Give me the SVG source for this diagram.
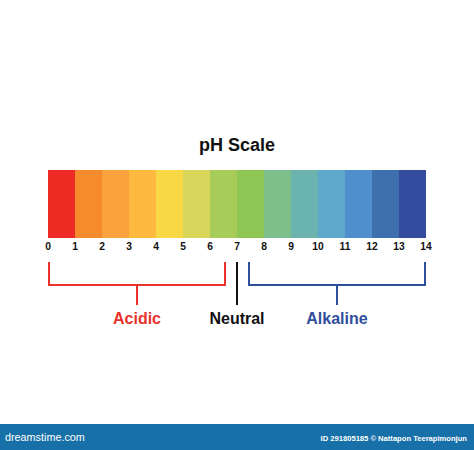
<svg xmlns="http://www.w3.org/2000/svg" width="474" height="450" viewBox="0 0 474 450">
<style>
.t{font-family:"Liberation Sans",Arial,sans-serif;font-weight:bold;text-anchor:middle}
.n{font-size:10.3px;fill:#111}
.lbl{font-size:16px}
.br{fill:none;stroke-width:2}
</style>
<rect width="474" height="450" fill="#fff"/>
<g id="title"><text class="t" x="237" y="151" font-size="18" fill="#111">pH Scale</text></g>
<g id="scale-bar">
<rect x="48" y="170" width="27.5" height="68" fill="#EE2A24"/>
<rect x="75" y="170" width="27.5" height="68" fill="#F68B2C"/>
<rect x="102" y="170" width="27.5" height="68" fill="#F9A13A"/>
<rect x="129" y="170" width="27.5" height="68" fill="#FDB940"/>
<rect x="156" y="170" width="27.5" height="68" fill="#F8D945"/>
<rect x="183" y="170" width="27.5" height="68" fill="#D9D75B"/>
<rect x="210" y="170" width="27.5" height="68" fill="#A8CC5A"/>
<rect x="237" y="170" width="27.5" height="68" fill="#8DC653"/>
<rect x="264" y="170" width="27.5" height="68" fill="#7DBE8B"/>
<rect x="291" y="170" width="27.5" height="68" fill="#6BB3AE"/>
<rect x="318" y="170" width="27.5" height="68" fill="#5EA8CB"/>
<rect x="345" y="170" width="27.5" height="68" fill="#4F8FCD"/>
<rect x="372" y="170" width="27.5" height="68" fill="#3F70AE"/>
<rect x="399" y="170" width="27" height="68" fill="#334C9D"/>
</g>
<g id="numbers" class="t n">
<text x="48" y="250">0</text><text x="75" y="250">1</text><text x="102" y="250">2</text><text x="129" y="250">3</text><text x="156" y="250">4</text><text x="183" y="250">5</text><text x="210" y="250">6</text><text x="237" y="250">7</text><text x="264" y="250">8</text><text x="291" y="250">9</text><text x="318" y="250">10</text><text x="345" y="250">11</text><text x="372" y="250">12</text><text x="399" y="250">13</text><text x="426" y="250">14</text>
</g>
<g id="connectors">
<path class="br" stroke="#E8322A" d="M49 262V285H225V262M137 285V305"/>
<path class="br" stroke="#111" d="M237 262V305"/>
<path class="br" stroke="#2F4E9C" d="M249 262V285H425V262M337 285V305"/>
</g>
<g id="acidic"><text class="t lbl" x="137" y="324" fill="#E8322A">Acidic</text></g>
<g id="neutral"><text class="t lbl" x="237" y="324" fill="#111">Neutral</text></g>
<g id="alkaline"><text class="t lbl" x="337" y="324" fill="#2F4E9C">Alkaline</text></g>
<g id="footer">
<rect x="0" y="424" width="474" height="26" fill="#1870A8"/>
<text x="5" y="441" font-family="'Liberation Sans',Arial,sans-serif" font-size="10.8" fill="#fff">dreamstime.com</text>
<text x="467" y="441" font-family="'Liberation Sans',Arial,sans-serif" font-weight="bold" font-size="7.6" fill="#fff" text-anchor="end">ID 291805185 © Nattapon Teerapimonjun</text>
</g>
</svg>
